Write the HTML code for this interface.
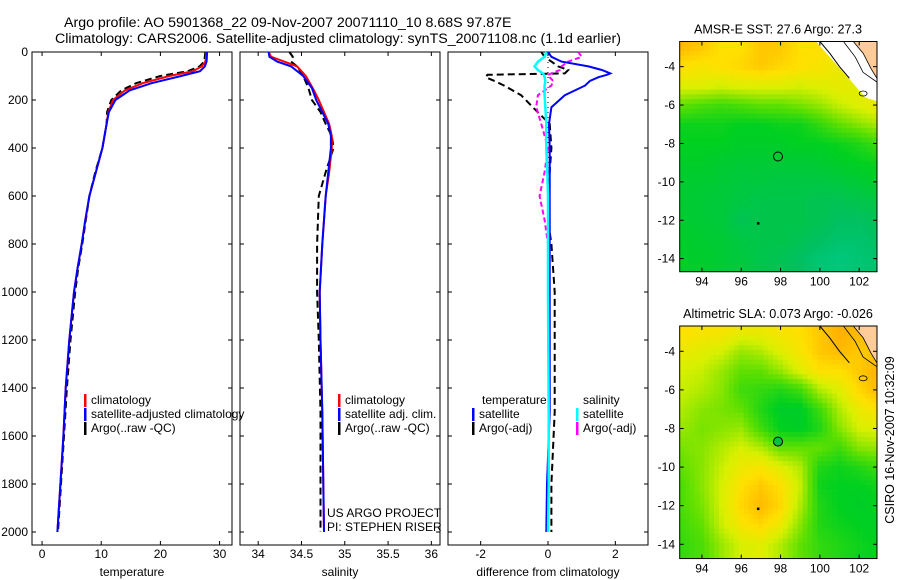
<!DOCTYPE html>
<html><head><meta charset="utf-8">
<style>
body{margin:0;background:#fff;}
svg{display:block;font-family:"Liberation Sans",sans-serif;}
text{fill:#000;}
</style></head>
<body>
<svg id="fig" width="900" height="580" viewBox="0 0 900 580">
<text x="64" y="27" font-size="14.2">Argo profile: AO 5901368_22 09-Nov-2007 20071110_10 8.68S 97.87E</text>
<text x="55" y="43" font-size="14.2">Climatology: CARS2006. Satellite-adjusted climatology: synTS_20071108.nc (1.1d earlier)</text>
<g id="plots"></g>
<text x="327" y="517" font-size="12">US ARGO PROJECT</text>
<text x="327" y="531" font-size="12">PI: STEPHEN RISER</text>
<text transform="translate(894,440) rotate(-90)" text-anchor="middle" font-size="12.5">CSIRO 16-Nov-2007 10:32:09</text>
</svg>
<script>
// ---- profile data ----
const tDepth=[0,40,60,80,100,130,160,200,250,300,400,500,600,700,800,900,1000,1200,1400,1600,1800,2000];
const tClim=[27.8,27.6,27.0,25.5,21.5,17.0,14.0,12.0,11.2,10.9,10.2,9.1,8.0,7.3,6.7,6.0,5.4,4.6,4.0,3.6,3.1,2.6];
const tSat=[27.9,27.8,27.5,26.7,23.5,18.5,14.8,12.4,11.3,10.9,10.2,9.1,8.0,7.3,6.7,6.0,5.4,4.6,4.0,3.6,3.1,2.6];
const tArgo=[27.6,27.4,26.6,24.6,20.0,15.9,13.4,11.7,11.0,10.9,10.2,9.0,8.0,7.4,6.8,6.1,5.6,4.8,4.2,3.7,3.2,2.7];
const sDepth=[0,20,40,60,100,150,200,250,300,350,400,500,600,800,1000,1200,1500,2000];
const sClim=[34.12,34.15,34.30,34.45,34.55,34.63,34.70,34.76,34.82,34.85,34.85,34.82,34.78,34.74,34.71,34.72,34.74,34.76];
const sSat=[34.12,34.13,34.22,34.38,34.52,34.62,34.67,34.74,34.81,34.84,34.84,34.81,34.78,34.74,34.71,34.72,34.74,34.76];
const sArgo=[34.36,34.40,34.38,34.45,34.52,34.58,34.62,34.72,34.78,34.85,34.87,34.78,34.70,34.68,34.68,34.70,34.72,34.72];
const dDepth=[0,20,40,60,75,89,95,105,120,140,180,230,300,400,500,600,700,800,1000,1500,1800,2000];
const dTSat=[0,0.1,0.4,1.2,1.6,1.85,1.75,1.5,1.25,1.1,0.5,0.1,0.03,0.05,0.05,0.05,0.05,0.05,0.05,0.05,-0.03,-0.05];
const dTArgo=[-0.2,-0.1,0.1,0.3,0.6,0.5,-1.8,-1.85,-1.6,-1.3,-0.8,-0.45,0.05,0.1,0.05,0,0,0.1,0.2,0.2,0.1,0.1];
const dSSat=[-0.05,-0.1,-0.3,-0.4,-0.3,-0.15,-0.12,-0.1,-0.08,-0.1,-0.1,-0.08,-0.05,-0.05,-0.02,0,0,0,0,0.02,0.02,0];
const dSArgo=[0.9,1.0,0.6,0.4,0.35,0.1,0.0,0.05,0.15,0.1,-0.3,-0.35,-0.2,0,-0.1,-0.25,-0.1,0,0,0.02,0,0];
const depthTicks=[0,200,400,600,800,1000,1200,1400,1600,1800,2000];
const tTicks=[0,10,20,30];
const sTicks=[34,34.5,35,35.5,36];
const dTicks=[-2,0,2];
// ---- map data (lon 93..103, lat -3..-15) ----
const mapLons=[93,94,95,96,97,98,99,100,101,102,103];
const mapLats=[-3,-4,-5,-6,-7,-8,-9,-10,-11,-12,-13,-14,-15];
const sstGrid=[
[.88,.85,.8,.8,.85,.85,.8,.8,.75,.75,.75],
[.8,.78,.8,.82,.85,.82,.8,.78,.75,.72,.72],
[.72,.72,.7,.72,.72,.72,.7,.72,.74,.72,.72],
[.55,.52,.5,.52,.55,.55,.58,.62,.68,.72,.75],
[.42,.42,.42,.4,.4,.42,.42,.48,.55,.6,.65],
[.4,.4,.4,.38,.38,.38,.4,.4,.42,.45,.5],
[.38,.38,.36,.35,.35,.35,.35,.36,.38,.4,.42],
[.36,.36,.35,.33,.33,.32,.32,.32,.33,.35,.38],
[.36,.35,.34,.32,.3,.3,.3,.28,.28,.3,.32],
[.36,.35,.34,.28,.3,.3,.3,.28,.25,.25,.28],
[.38,.36,.35,.32,.3,.3,.28,.25,.22,.22,.25],
[.38,.37,.35,.33,.3,.28,.25,.2,.18,.2,.22],
[.38,.37,.35,.33,.3,.28,.25,.2,.18,.2,.22]];
const slaGrid=[
[.8,.78,.78,.75,.75,.78,.8,.85,.9,.88,.88],
[.75,.72,.7,.62,.65,.72,.78,.85,.88,.85,.85],
[.7,.68,.62,.55,.55,.62,.72,.8,.8,.85,.9],
[.68,.65,.6,.5,.48,.45,.5,.65,.72,.82,.88],
[.65,.6,.58,.55,.45,.38,.38,.5,.65,.75,.8],
[.62,.58,.6,.62,.5,.4,.38,.45,.6,.7,.72],
[.58,.6,.65,.7,.65,.55,.55,.55,.5,.6,.62],
[.55,.6,.68,.75,.78,.72,.65,.45,.42,.45,.5],
[.52,.6,.7,.8,.85,.8,.68,.42,.4,.4,.42],
[.52,.58,.7,.82,.88,.82,.65,.45,.4,.38,.4],
[.5,.55,.68,.78,.82,.75,.6,.45,.42,.4,.38],
[.48,.52,.62,.7,.72,.65,.55,.48,.45,.42,.4],
[.48,.52,.62,.7,.72,.65,.55,.48,.45,.42,.4]];
const mapLonTicks=[94,96,98,100,102];
const mapLatTicks=[-4,-6,-8,-10,-12,-14];
const argoLon=97.87, argoLat=-8.68;

const NS='http://www.w3.org/2000/svg';
const root=document.getElementById('plots');
function mk(tag,attrs,parent){const e=document.createElementNS(NS,tag);for(const k in attrs)e.setAttribute(k,attrs[k]);(parent||root).appendChild(e);return e;}

const panels=[
 {x0:32,x1:232,d0:-1.7,d1:32.1,ticks:tTicks,title:'temperature',name:'temperature-panel',yl:true},
 {x0:240,x1:440,d0:33.79,d1:36.1,ticks:sTicks,title:'salinity',name:'salinity-panel'},
 {x0:448,x1:648,d0:-2.97,d1:2.97,ticks:dTicks,title:'difference from climatology',name:'difference-panel'}];
const yTop=52, yBot=545;
const yScale=d=>52+d*0.24;
panels.forEach(p=>{
  p.sx=v=>p.x0+(v-p.d0)/(p.d1-p.d0)*(p.x1-p.x0);
  const g=mk('g',{});
  
  
  p.g=g;
  const fr=mk('rect',{x:p.x0,y:yTop,width:p.x1-p.x0,height:yBot-yTop,fill:'none',stroke:'#000','stroke-width':1},g);
  
  
  depthTicks.forEach(d=>{
    const y=yScale(d);
    mk('line',{x1:p.x0,x2:p.x0+4,y1:y,y2:y,stroke:'#000'},g);
    mk('line',{x1:p.x1,x2:p.x1-4,y1:y,y2:y,stroke:'#000'},g);
    if(p.yl){const t=mk('text',{x:p.x0-4,y:y+4,'font-size':12,'text-anchor':'end'},g);t.textContent=d;
      
      }
  });
  p.ticks.forEach(v=>{
    const x=p.sx(v);
    mk('line',{x1:x,x2:x,y1:yBot,y2:yBot-4,stroke:'#000'},g);
    mk('line',{x1:x,x2:x,y1:yTop,y2:yTop+4,stroke:'#000'},g);
    const t=mk('text',{x:x,y:558,'font-size':12,'text-anchor':'middle'},g);t.textContent=v;
    
    
  });
  const at=mk('text',{x:(p.x0+p.x1)/2,y:576,'font-size':12,'text-anchor':'middle'},g);at.textContent=p.title;
  
  
});
function line(p,depths,vals,color,dash,name,w){
  const pts=depths.map((d,i)=>p.sx(vals[i]).toFixed(1)+','+yScale(d).toFixed(1)).join(' ');
  const e=mk('polyline',{points:pts,fill:'none',stroke:color,'stroke-width':w||2,'stroke-dasharray':dash||'none'},p.g);
  
  
}
const P1=panels[0],P2=panels[1],P3=panels[2];
line(P1,tDepth,tArgo,'#000','7,4','argo-temperature-line');
line(P1,tDepth,tClim,'#f00',null,'climatology-temperature-line');
line(P1,tDepth,tSat,'#00f',null,'satellite-temperature-line');
line(P2,sDepth,sArgo,'#000','7,4','argo-salinity-line');
line(P2,sDepth,sClim,'#f00',null,'climatology-salinity-line');
line(P2,sDepth,sSat,'#00f',null,'satellite-salinity-line');
const z=mk('line',{x1:P3.sx(0),x2:P3.sx(0),y1:yTop,y2:yScale(2000),stroke:'#000','stroke-dasharray':'1,4'},P3.g);


line(P3,dDepth,dTArgo,'#000','7,4','argo-temp-diff-line');
line(P3,dDepth,dSArgo,'#f0f','5,3','argo-sal-diff-line');
line(P3,dDepth,dTSat,'#00f',null,'satellite-temp-diff-line');
line(P3,dDepth,dSSat,'#0ff',null,'satellite-sal-diff-line',2.5);

function legend(x,y,color,label,name){
  const g=mk('g',{});
  
  
  if(color) mk('rect',{x:x,y:y-10,width:2.5,height:13,fill:color},g);
  const t=mk('text',{x:x+7,y:y,'font-size':12},g);t.textContent=label;
}
legend(84,404,'#f00','climatology','legend-climatology');
legend(84,418,'#00f','satellite-adjusted climatology','legend-satellite');
legend(84,432,'#000','Argo(..raw -QC)','legend-argo');
legend(338,404,'#f00','climatology','legend-climatology-sal');
legend(338,418,'#00f','satellite adj. clim.','legend-satellite-sal');
legend(338,432,'#000','Argo(..raw -QC)','legend-argo-sal');
legend(475,404,null,'temperature','legend-temperature-heading');
legend(472,418,'#00f','satellite','legend-temp-satellite');
legend(472,432,'#000','Argo(-adj)','legend-temp-argo');
legend(576,404,null,'salinity','legend-salinity-heading');
legend(576,418,'#0ff','satellite','legend-sal-satellite');
legend(576,432,'#f0f','Argo(-adj)','legend-sal-argo');

// ---- maps ----
const stops=[[0,[0,216,192]],[0.25,[0,192,96]],[0.4,[0,208,32]],[0.55,[96,224,0]],[0.7,[216,240,0]],[0.8,[255,224,0]],[0.9,[255,176,0]],[1,[255,128,0]]];
function cmap(v){v=Math.max(0,Math.min(1,v));for(let i=1;i<stops.length;i++){if(v<=stops[i][0]){const a=stops[i-1],b=stops[i],t=(v-a[0])/(b[0]-a[0]);return 'rgb('+a[1].map((c,k)=>Math.round(c+(b[1][k]-c)*t)).join(',')+')';}}return 'rgb(255,128,0)';}
function sample(grid,lon,lat){
  const fi=Math.max(0,Math.min(9.999,lon-93)),fj=Math.max(0,Math.min(11.999,-3-lat));
  const i=Math.floor(fi),j=Math.floor(fj),u=fi-i,w=fj-j;
  return grid[j][i]*(1-u)*(1-w)+grid[j][i+1]*u*(1-w)+grid[j+1][i]*(1-u)*w+grid[j+1][i+1]*u*w;
}
function drawMap(m){
  const g=mk('g',{});
  
  
  const X=lon=>679.7+(lon-92.87)*19.66, Y=lat=>m.top+(-2.69-lat)*m.ppd;
  const bottom=Y(m.latMin);
  const step=0.25;
  for(let lat=-2.69;lat>m.latMin;lat-=step){
    for(let lon=92.87;lon<102.9;lon+=step){
      const y0=Y(lat),y1=Math.min(bottom,Y(lat-step)),x0=X(lon),x1=Math.min(877,X(lon+step));
      mk('rect',{x:x0.toFixed(1),y:y0.toFixed(1),width:(x1-x0+0.4).toFixed(1),height:(y1-y0+0.4).toFixed(1),fill:cmap(sample(m.grid,lon+step/2,lat-step/2))},g);
    }
  }
  if(m.white){
    const wp=[[99.8,-2.69],[100.5,-3.5],[101.2,-4.3],[101.8,-5.0],[102.3,-5.6],[102.9,-5.8],[102.9,-2.69]];
    mk('polygon',{points:wp.map(p=>X(p[0])+','+Y(p[1])).join(' '),fill:'#fff'},g);
  }
  const lp=[[101.7,-2.69],[102.2,-3.3],[102.6,-4.1],[102.9,-4.6],[102.9,-2.69]];
  const land=mk('polygon',{points:lp.map(p=>X(p[0])+','+Y(p[1])).join(' '),fill:'#ffcc99',stroke:'#000','stroke-width':0.8},g);
  
  
  const cl=[[100,-2.69],[100.5,-3.3],[101,-4],[101.5,-4.6]];
  mk('polyline',{points:cl.map(p=>X(p[0])+','+Y(p[1])).join(' '),fill:'none',stroke:'#000','stroke-width':1},g);
  const cl2=[[101.2,-2.69],[101.8,-3.5],[102.2,-4.3],[102.9,-4.8]];
  mk('polyline',{points:cl2.map(p=>X(p[0])+','+Y(p[1])).join(' '),fill:'none',stroke:'#000','stroke-width':0.8},g);
  mk('ellipse',{cx:X(102.2),cy:Y(-5.4),rx:4,ry:2.5,fill:'none',stroke:'#000','stroke-width':0.8},g);
  mk('rect',{x:679.7,y:m.top,width:197.3,height:bottom-m.top,fill:'none',stroke:'#000'},g);
  const c=mk('circle',{cx:X(argoLon),cy:Y(argoLat),r:4.5,fill:m.circleFill,stroke:'#000'},g);
  
  
  mk('rect',{x:X(96.85)-1,y:Y(-12.15)-1,width:2.5,height:2.5,fill:'#000'},g);
  mapLonTicks.forEach(v=>{const x=X(v);
    mk('line',{x1:x,x2:x,y1:bottom,y2:bottom-4,stroke:'#000'},g);
    mk('line',{x1:x,x2:x,y1:m.top,y2:m.top+4,stroke:'#000'},g);
    const t=mk('text',{x:x,y:bottom+14,'font-size':12,'text-anchor':'middle'},g);t.textContent=v;
    
    });
  mapLatTicks.forEach(v=>{const y=Y(v);
    mk('line',{x1:679.7,x2:683.7,y1:y,y2:y,stroke:'#000'},g);
    mk('line',{x1:877,x2:873,y1:y,y2:y,stroke:'#000'},g);
    const t=mk('text',{x:675,y:y+4,'font-size':12,'text-anchor':'end'},g);t.textContent=v;
    
    });
  const tt=mk('text',{x:778,y:m.top-8,'font-size':12.6,'text-anchor':'middle'},g);tt.textContent=m.title;
  
  
}
drawMap({name:'sst-map',grid:sstGrid,top:41.5,ppd:19.2,latMin:-14.68,white:true,circleFill:'none',title:'AMSR-E SST: 27.6 Argo: 27.3'});
drawMap({name:'sla-map',grid:slaGrid,top:326,ppd:19.3,latMin:-14.74,white:false,circleFill:'#00c040',title:'Altimetric SLA: 0.073 Argo: -0.026'});
</script>
</body></html>
